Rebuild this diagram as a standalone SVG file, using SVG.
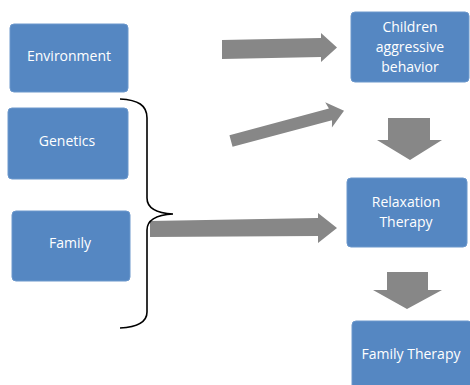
<svg xmlns="http://www.w3.org/2000/svg" width="470" height="385" viewBox="0 0 470 385">
<style>
.box{fill:#5587C2;stroke:#6C98CC;stroke-width:1}
.t{font-family:"Open Sans","Liberation Sans",Arial,sans-serif;font-size:14px;fill:#FFFFFF;text-anchor:middle}
.arr{fill:#878787}
.brace{fill:none;stroke:#000;stroke-width:1.6}
</style>
<rect width="470" height="385" fill="#FFFFFF"/>
<g id="environment"><rect class="box" x="10" y="24" width="118" height="68" rx="4"/><text class="t" x="69" y="61">Environment</text></g>
<g id="genetics"><rect class="box" x="8" y="108" width="120" height="71" rx="4"/><text class="t" x="67" y="146">Genetics</text></g>
<g id="family"><rect class="box" x="12" y="211" width="118" height="70" rx="4"/><text class="t" x="70" y="248">Family</text></g>
<g id="children"><rect class="box" x="351" y="12" width="118" height="70" rx="4"/><text class="t" x="410" y="32">Children</text><text class="t" x="410" y="52">aggressive</text><text class="t" x="410" y="72">behavior</text></g>
<g id="relaxation"><rect class="box" x="347" y="178" width="120" height="69" rx="4"/><text class="t" x="406" y="207">Relaxation</text><text class="t" x="406" y="227">Therapy</text></g>
<g id="familytherapy"><rect class="box" x="352" y="321" width="120" height="70" rx="4"/><text class="t" x="411" y="359">Family Therapy</text></g>
<g id="connectors">
<polygon class="arr" points="222,40 321,38 321,33 337,47.5 321,62 321,57 222,59"/>
<polygon class="arr" points="0,-6 103,-6 101,-13 117,0 101,13 103,6 0,6" transform="translate(231,141) rotate(-15)"/>
<polygon class="arr" points="150,221 318,218 318,213 337,228 318,243 318,236 150,237"/>
<polygon class="arr" points="388,118 430,118 430,140 442,140 410,160 377,140 388,140"/>
<polygon class="arr" points="387,272 428,272 428,290 442,290 407,309 373,290 387,290"/>
<path class="brace" d="M120,99 C138,100 147,105 147,118 L147,198 C147,208 155,213 173,214 C155,215 147,220 147,230 L147,312 C147,322 138,327 120,328"/>
</g>
</svg>
